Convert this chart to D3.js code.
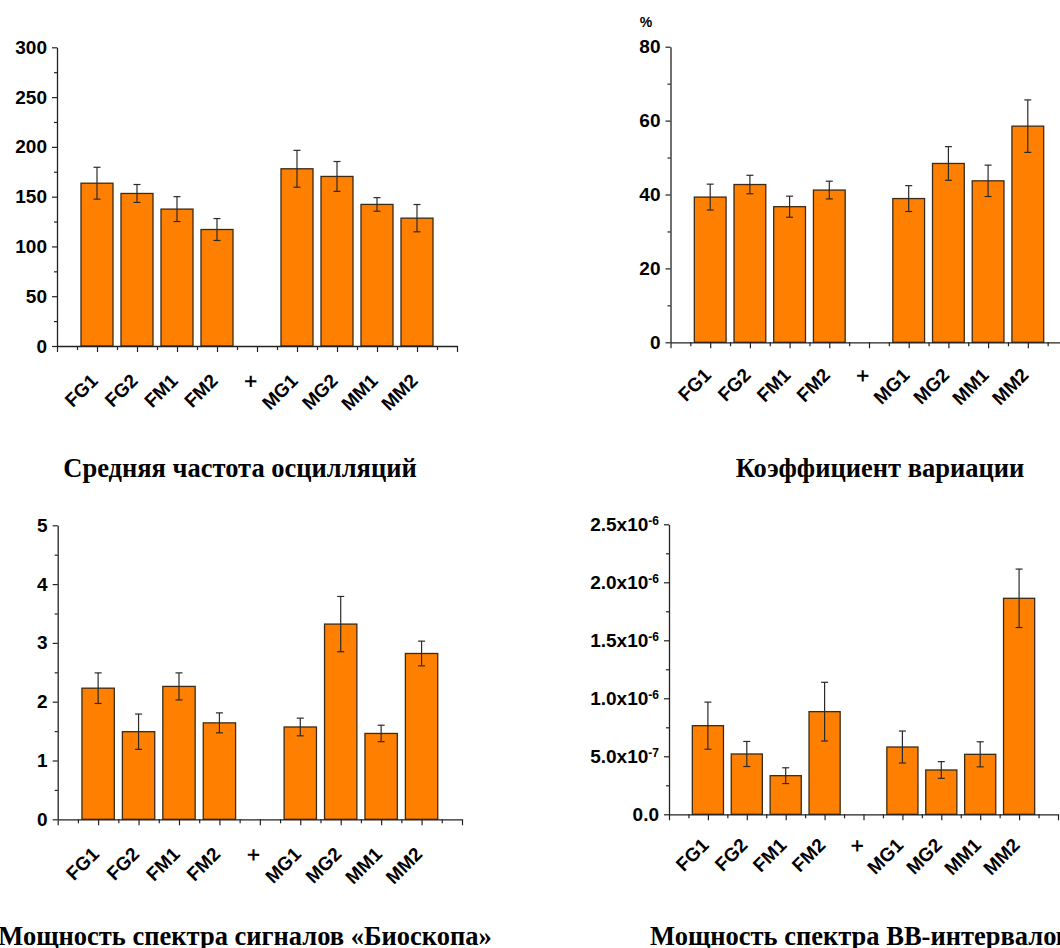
<!DOCTYPE html>
<html>
<head>
<meta charset="utf-8">
<script src="https://cdn.jsdelivr.net/npm/d3@7"></script>
<style>
  body { margin: 0; background: #fff; }
  svg { display: block; }
</style>
</head>
<body>
<div id="chart"></div>
<script>
const width = 1060;
const height = 948;

// categories (the 5th slot is an empty gap)
const categories = ["FG1", "FG2", "FM1", "FM2", "×", "MG1", "MG2", "MM1", "MM2"];

// mean oscillation frequency
const freqValues = [163.5, 153.2, 137.5, 117, null, 178, 170.3, 142.2, 128.4];
const freqErrors = [16, 9, 12.5, 11, null, 18.5, 15, 6.8, 13.7];

// coefficient of variation, %
const cvValues = [39.3, 42.7, 36.7, 41.2, null, 38.9, 48.4, 43.7, 58.5];
const cvErrors = [3.5, 2.5, 2.85, 2.4, null, 3.5, 4.55, 4.25, 7.1];

// spectrum power of "Bioscope" signals
const bioValues = [2.23, 1.49, 2.26, 1.64, null, 1.57, 3.32, 1.46, 2.82];
const bioErrors = [0.26, 0.30, 0.23, 0.17, null, 0.15, 0.47, 0.14, 0.21];

// spectrum power of BB intervals
const bbValues = [7.64e-7, 5.20e-7, 3.33e-7, 8.85e-7, null, 5.80e-7, 3.82e-7, 5.17e-7, 1.862e-6];
const bbErrors = [2.03e-7, 1.08e-7, 0.68e-7, 2.53e-7, null, 1.38e-7, 0.72e-7, 1.08e-7, 2.52e-7];

// y ticks
const freqTicks = [0, 50, 100, 150, 200, 250, 300];
const cvTicks = [0, 20, 40, 60, 80];
const bioTicks = [0, 1, 2, 3, 4, 5];
const bbTicks = [0, 5e-7, 1e-6, 1.5e-6, 2e-6, 2.5e-6];
const bbTickLabels = [["0.0", ""], ["5.0x10", "-7"], ["1.0x10", "-6"], ["1.5x10", "-6"], ["2.0x10", "-6"], ["2.5x10", "-6"]];

const titles = [
  "Средняя частота осцилляций",
  "Коэффициент вариации",
  "Мощность спектра сигналов «Биоскопа»",
  "Мощность спектра ВВ-интервалов"
];

const svg = d3.select("#chart")
  .append("svg")
  .attr("width", width)
  .attr("height", height);

const sans = "'Liberation Sans', Arial, sans-serif";
const serif = "'Liberation Serif', 'Times New Roman', serif";
const lineColor = "#222";

function drawPanel(p) {
  const g = svg.append("g");

  const x = d3.scaleLinear().domain([0, 10]).range([p.x0, p.x1]);
  const y = d3.scaleLinear().domain([0, p.ticks[p.ticks.length - 1]]).range([p.y0, p.yTop]);
  const barW = 0.8 * (x(1) - x(0));

  // minor y ticks
  const step = p.ticks[1] - p.ticks[0];
  const minor = d3.range(p.ticks.length - 1).map(i => p.ticks[i] + step / 2);
  g.append("g")
    .attr("transform", `translate(${p.x0},0)`)
    .call(d3.axisLeft(y).tickValues(minor).tickSize(3).tickSizeOuter(0).tickFormat(""))
    .call(a => a.select(".domain").remove())
    .call(a => a.selectAll("line").attr("stroke", lineColor).attr("stroke-width", 1.2));

  // major y ticks
  const yAxis = g.append("g")
    .attr("transform", `translate(${p.x0},0)`)
    .call(d3.axisLeft(y).tickValues(p.ticks).tickSize(5).tickSizeOuter(0).tickPadding(5)
      .tickFormat(p.labels ? "" : d3.format("d")));
  yAxis.select(".domain").attr("stroke", lineColor).attr("stroke-width", 1.3);
  yAxis.selectAll("line").attr("stroke", lineColor).attr("stroke-width", 1.2);
  yAxis.selectAll("text")
    .attr("font-family", sans)
    .attr("font-weight", "bold")
    .attr("font-size", 19)
    .attr("fill", "#000");

  if (p.labels) {
    yAxis.selectAll(".tick text").each(function(d, i) {
      const t = d3.select(this);
      t.append("tspan").text(p.labels[i][0]);
      if (p.labels[i][1]) {
        t.append("tspan").attr("dy", "-0.45em").attr("font-size", 12).text(p.labels[i][1]);
      }
    });
  }

  // bars
  const data = categories.map((c, i) => ({ c, i, v: p.values[i], e: p.errors[i] }))
    .filter(d => d.v !== null);

  g.selectAll(".bar")
    .data(data)
    .enter()
    .append("rect")
    .attr("class", "bar")
    .attr("x", d => x(d.i + 1) - barW / 2)
    .attr("y", d => y(d.v))
    .attr("width", barW)
    .attr("height", d => y(0) - y(d.v))
    .attr("fill", "#ff8000")
    .attr("stroke", "#3d2a14")
    .attr("stroke-width", 1.3);

  // error bars
  const eb = g.selectAll(".err")
    .data(data)
    .enter()
    .append("g")
    .attr("stroke", "#2a2a2a")
    .attr("stroke-width", 1.2);
  eb.append("line")
    .attr("x1", d => x(d.i + 1)).attr("x2", d => x(d.i + 1))
    .attr("y1", d => y(d.v + d.e)).attr("y2", d => y(d.v - d.e));
  eb.append("line")
    .attr("x1", d => x(d.i + 1) - 3.5).attr("x2", d => x(d.i + 1) + 3.5)
    .attr("y1", d => y(d.v + d.e)).attr("y2", d => y(d.v + d.e));
  eb.append("line")
    .attr("x1", d => x(d.i + 1) - 3.5).attr("x2", d => x(d.i + 1) + 3.5)
    .attr("y1", d => y(d.v - d.e)).attr("y2", d => y(d.v - d.e));

  // x axis: major ticks on integers, minor on halves
  g.append("g")
    .attr("transform", `translate(0,${p.y0})`)
    .call(d3.axisBottom(x).tickValues(d3.range(0, 10, 1).map(v => v + 0.5)).tickSize(4).tickSizeOuter(0).tickFormat(""))
    .call(a => a.select(".domain").remove())
    .call(a => a.selectAll("line").attr("stroke", lineColor).attr("stroke-width", 1.2));
  const xAxis = g.append("g")
    .attr("transform", `translate(0,${p.y0})`)
    .call(d3.axisBottom(x).tickValues(d3.range(0, 11)).tickSize(6).tickSizeOuter(0).tickFormat(""));
  xAxis.select(".domain").attr("stroke", lineColor).attr("stroke-width", 1.3);
  xAxis.selectAll("line").attr("stroke", lineColor).attr("stroke-width", 1.2);

  g.selectAll(".xlabel")
    .data(categories)
    .enter()
    .append("text")
    .attr("transform", (d, i) => `translate(${x(i + 1) + 2},${p.y0 + p.labelDy}) rotate(-45)`)
    .attr("text-anchor", "end")
    .attr("font-family", sans)
    .attr("font-weight", "bold")
    .attr("font-size", 19)
    .text(d => d);

  // panel caption
  g.append("text")
    .attr("x", p.titleX)
    .attr("y", p.titleY)
    .attr("text-anchor", p.titleAnchor || "middle")
    .attr("font-family", serif)
    .attr("font-weight", "bold")
    .attr("font-size", 26.5)
    .text(p.title);
}

drawPanel({ x0: 57, x1: 457, y0: 346, yTop: 47.3, ticks: freqTicks, values: freqValues, errors: freqErrors,
  labelDy: 36, title: titles[0], titleX: 240, titleY: 477 });
drawPanel({ x0: 670.5, x1: 1067.5, y0: 342.3, yTop: 46.7, ticks: cvTicks, values: cvValues, errors: cvErrors,
  labelDy: 34, title: titles[1], titleX: 880, titleY: 477 });
drawPanel({ x0: 57.7, x1: 462, y0: 819.3, yTop: 525.3, ticks: bioTicks, values: bioValues, errors: bioErrors,
  labelDy: 36, title: titles[2], titleX: 245, titleY: 945 });
drawPanel({ x0: 669, x1: 1058, y0: 814.3, yTop: 524.3, ticks: bbTicks, values: bbValues, errors: bbErrors,
  labels: bbTickLabels, labelDy: 32, title: titles[3], titleX: 650, titleY: 945, titleAnchor: "start" });

// unit mark above the second panel
svg.append("text")
  .attr("x", 646)
  .attr("y", 27)
  .attr("text-anchor", "middle")
  .attr("font-family", sans)
  .attr("font-weight", "bold")
  .attr("font-size", 14)
  .text("%");
</script>
</body>
</html>
